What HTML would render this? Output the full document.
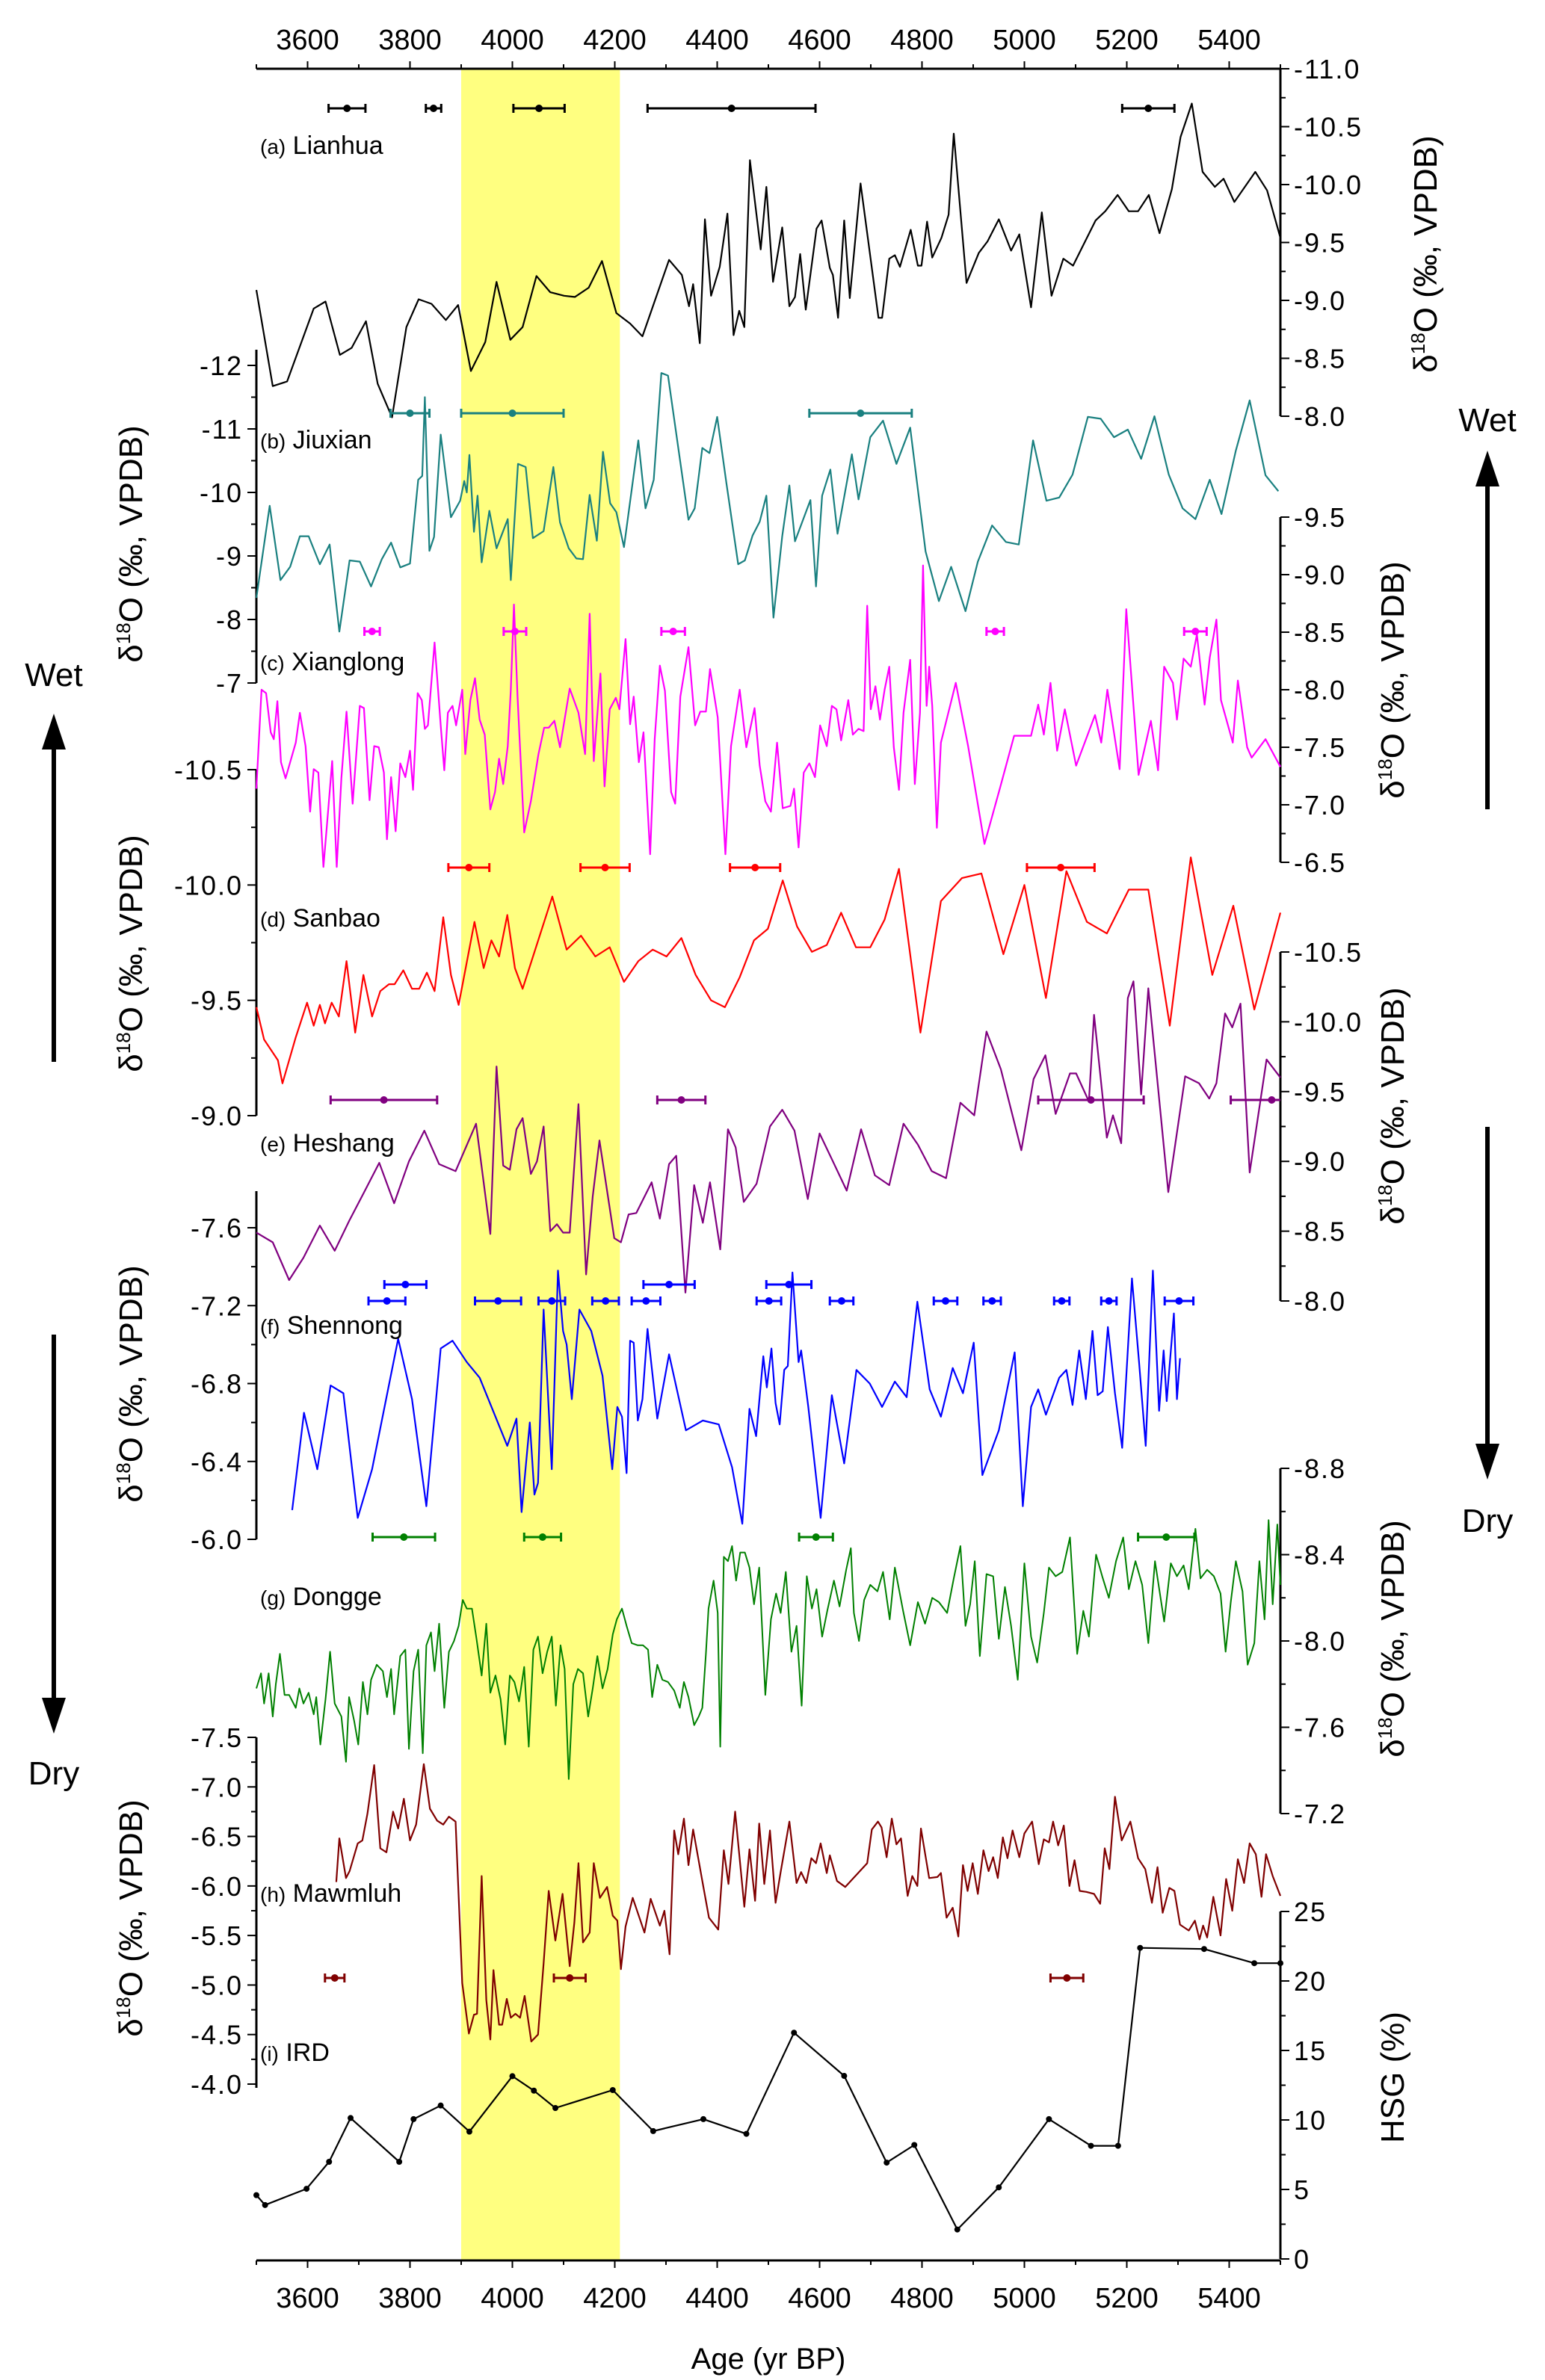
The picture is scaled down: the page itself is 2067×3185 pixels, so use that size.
<!DOCTYPE html>
<html><head><meta charset="utf-8"><style>
html,body{margin:0;padding:0;background:#fff;}
svg{display:block;font-family:"Liberation Sans",Arial,sans-serif;}
</style></head><body>
<svg id="chart" xmlns="http://www.w3.org/2000/svg" width="2067" height="3185" viewBox="0 0 2067 3185">
<rect x="0" y="0" width="2067" height="3185" fill="#fff"/>
<g id="band"></g><g id="axes"></g><g id="series"></g><g id="labels"></g>
</svg>
<script>
// ---- data ----
const lianhuaAge=[3500,3532,3560,3612,3635,3663,3686,3714,3737,3765,3793,3817,3842,3870,3894,3919,3947,3969,3996,4020,4047,4074,4101,4122,4149,4175,4203,4230,4254,4306,4331,4345,4353,4366,4376,4388,4405,4420,4432,4443,4453,4464,4485,4496,4509,4527,4541,4552,4562,4573,4594,4604,4620,4626,4636,4648,4659,4680,4715,4722,4736,4747,4757,4778,4792,4799,4810,4820,4838,4852,4862,4887,4911,4928,4950,4974,4990,5013,5034,5053,5076,5095,5113,5139,5158,5182,5204,5222,5243,5264,5288,5305,5327,5348,5372,5389,5410,5451,5474,5500];
const lianhuaVal=[-9.09,-8.26,-8.30,-8.93,-8.99,-8.53,-8.59,-8.82,-8.28,-7.99,-8.77,-9.01,-8.97,-8.83,-8.96,-8.39,-8.64,-9.16,-8.66,-8.77,-9.21,-9.07,-9.04,-9.03,-9.11,-9.34,-8.89,-8.80,-8.69,-9.35,-9.22,-8.95,-9.14,-8.63,-9.70,-9.04,-9.29,-9.75,-8.70,-8.91,-8.77,-10.21,-9.44,-9.98,-9.16,-9.63,-8.95,-9.03,-9.40,-8.92,-9.62,-9.69,-9.28,-9.22,-8.85,-9.69,-9.02,-10.01,-8.85,-8.85,-9.36,-9.39,-9.29,-9.61,-9.30,-9.30,-9.68,-9.37,-9.54,-9.74,-10.44,-9.15,-9.41,-9.51,-9.70,-9.43,-9.57,-8.94,-9.76,-9.04,-9.36,-9.30,-9.46,-9.69,-9.77,-9.91,-9.77,-9.77,-9.91,-9.58,-9.96,-10.41,-10.70,-10.11,-9.98,-10.05,-9.85,-10.11,-9.95,-9.54];

const jiuxianAge=[3500,3526,3547,3566,3585,3602,3624,3643,3662,3682,3702,3724,3745,3763,3781,3800,3816,3824,3829,3838,3847,3860,3880,3898,3906,3911,3916,3925,3932,3940,3955,3969,3991,3997,4011,4026,4040,4061,4080,4093,4110,4125,4138,4151,4165,4177,4191,4203,4218,4246,4260,4276,4291,4304,4344,4356,4371,4385,4400,4418,4441,4454,4469,4483,4496,4510,4527,4541,4552,4582,4593,4605,4621,4635,4663,4676,4699,4724,4750,4777,4807,4833,4857,4885,4909,4937,4964,4989,5017,5043,5068,5094,5124,5149,5175,5202,5228,5254,5282,5309,5334,5362,5385,5413,5440,5471,5496];
const jiuxianVal=[-8.34,-9.79,-8.62,-8.83,-9.31,-9.31,-8.87,-9.18,-7.81,-8.93,-8.91,-8.52,-8.95,-9.21,-8.82,-8.88,-10.20,-10.26,-11.50,-9.08,-9.30,-10.91,-9.61,-9.87,-10.18,-10.00,-10.59,-9.38,-9.95,-8.90,-9.71,-9.12,-9.58,-8.62,-10.45,-10.40,-9.28,-9.39,-10.40,-9.53,-9.12,-8.96,-8.95,-9.96,-9.24,-10.64,-9.83,-9.69,-9.14,-10.82,-9.75,-10.20,-11.88,-11.84,-9.57,-9.75,-10.70,-10.62,-11.19,-10.15,-8.87,-8.93,-9.32,-9.54,-9.95,-8.03,-9.31,-10.11,-9.23,-9.88,-8.52,-9.95,-10.36,-9.35,-10.60,-9.89,-10.87,-11.13,-10.45,-11.02,-9.07,-8.29,-8.83,-8.13,-8.91,-9.48,-9.22,-9.18,-10.82,-9.87,-9.92,-10.28,-11.19,-11.16,-10.87,-10.99,-10.53,-11.20,-10.28,-9.75,-9.58,-10.20,-9.66,-10.66,-11.45,-10.27,-10.02];

const xianglongAge=[3500,3510,3519,3528,3534,3541,3548,3557,3566,3577,3585,3596,3605,3612,3621,3631,3640,3648,3657,3666,3676,3688,3702,3710,3721,3730,3739,3749,3755,3763,3772,3781,3791,3800,3806,3815,3823,3829,3835,3848,3860,3867,3874,3883,3890,3902,3908,3918,3927,3936,3946,3957,3966,3974,3982,3991,3997,4003,4010,4023,4036,4051,4062,4071,4082,4093,4112,4129,4142,4151,4159,4172,4180,4190,4202,4209,4221,4230,4237,4247,4256,4269,4278,4288,4298,4310,4318,4328,4344,4357,4367,4378,4386,4401,4416,4427,4444,4457,4473,4483,4494,4505,4517,4528,4543,4550,4559,4569,4580,4591,4601,4614,4624,4633,4642,4656,4665,4676,4686,4693,4700,4709,4718,4727,4736,4745,4755,4764,4777,4786,4796,4802,4809,4814,4820,4829,4837,4866,4890,4922,4952,4980,5013,5027,5038,5051,5064,5079,5101,5138,5150,5162,5186,5199,5223,5247,5261,5273,5290,5298,5311,5325,5337,5352,5362,5375,5384,5407,5417,5435,5444,5471,5500];
const xianglongVal=[-7.14,-8.00,-7.97,-7.63,-7.57,-7.90,-7.37,-7.23,-7.37,-7.54,-7.80,-7.51,-6.94,-7.31,-7.28,-6.46,-6.94,-7.38,-6.46,-7.23,-7.81,-7.01,-7.86,-7.84,-7.04,-7.51,-7.50,-7.28,-6.70,-7.24,-6.77,-7.36,-7.24,-7.47,-7.13,-7.97,-7.91,-7.66,-7.69,-8.41,-7.69,-7.30,-7.80,-7.86,-7.69,-8.00,-7.44,-7.91,-8.10,-7.74,-7.61,-6.96,-7.11,-7.40,-7.18,-7.51,-8.00,-8.74,-7.94,-6.76,-7.03,-7.44,-7.67,-7.67,-7.73,-7.50,-8.01,-7.80,-7.44,-8.66,-7.38,-8.14,-7.16,-7.83,-7.93,-7.83,-8.44,-7.70,-7.94,-7.37,-7.63,-6.57,-7.57,-8.21,-7.99,-7.11,-7.01,-7.94,-8.37,-7.69,-7.81,-7.81,-8.18,-7.76,-6.57,-7.51,-8.00,-7.50,-7.84,-7.34,-7.03,-6.94,-7.54,-6.97,-6.99,-7.14,-6.63,-7.28,-7.36,-7.24,-7.69,-7.51,-7.86,-7.83,-7.56,-7.91,-7.61,-7.66,-7.64,-8.73,-7.83,-8.03,-7.74,-8.00,-8.20,-7.50,-7.13,-7.80,-8.26,-7.18,-7.80,-9.08,-7.86,-8.20,-7.86,-6.80,-7.54,-8.06,-7.51,-6.66,-7.14,-7.60,-7.60,-7.87,-7.61,-8.06,-7.47,-7.83,-7.34,-7.78,-7.54,-8.00,-7.31,-8.70,-7.26,-7.73,-7.30,-8.20,-8.06,-7.74,-8.27,-8.20,-8.48,-7.87,-8.28,-8.61,-7.91,-7.54,-8.08,-7.50,-7.41,-7.57,-7.33];

const sanbaoAge=[3500,3515,3542,3551,3577,3599,3612,3624,3634,3647,3661,3676,3693,3709,3726,3742,3759,3770,3787,3804,3818,3833,3848,3865,3880,3895,3926,3944,3959,3974,3990,4005,4020,4078,4106,4134,4162,4190,4218,4246,4274,4301,4330,4358,4388,4415,4444,4472,4499,4528,4556,4585,4614,4642,4671,4699,4727,4755,4797,4837,4878,4916,4959,5000,5042,5082,5122,5161,5204,5242,5284,5325,5367,5408,5449,5500];
const sanbaoVal=[-9.47,-9.33,-9.24,-9.14,-9.34,-9.49,-9.39,-9.48,-9.40,-9.49,-9.43,-9.67,-9.36,-9.61,-9.43,-9.54,-9.57,-9.57,-9.63,-9.55,-9.55,-9.62,-9.54,-9.86,-9.61,-9.48,-9.84,-9.64,-9.76,-9.69,-9.87,-9.64,-9.55,-9.95,-9.72,-9.78,-9.69,-9.73,-9.58,-9.67,-9.72,-9.69,-9.77,-9.61,-9.50,-9.47,-9.60,-9.76,-9.81,-10.02,-9.82,-9.71,-9.74,-9.88,-9.73,-9.73,-9.85,-10.07,-9.36,-9.93,-10.03,-10.05,-9.70,-10.00,-9.51,-10.06,-9.84,-9.79,-9.98,-9.98,-9.39,-10.12,-9.61,-9.91,-9.46,-9.88];

const heshangAge=[3500,3532,3564,3592,3624,3653,3682,3712,3740,3769,3798,3828,3857,3889,3929,3957,3969,3982,3995,4008,4020,4036,4048,4061,4074,4087,4099,4112,4129,4144,4157,4170,4199,4212,4227,4242,4272,4288,4306,4320,4338,4355,4372,4386,4406,4421,4436,4452,4477,4503,4527,4551,4577,4600,4626,4653,4681,4708,4736,4764,4792,4819,4847,4875,4902,4926,4954,4994,5018,5041,5061,5089,5101,5126,5136,5161,5173,5189,5202,5213,5228,5242,5281,5314,5341,5361,5375,5392,5406,5422,5440,5473,5500];
const heshangVal=[-8.49,-8.42,-8.15,-8.31,-8.54,-8.36,-8.58,-8.79,-8.99,-8.70,-9.00,-9.22,-8.98,-8.93,-9.27,-8.48,-9.68,-8.97,-8.94,-9.23,-9.31,-8.91,-9.00,-9.25,-8.50,-8.55,-8.49,-8.49,-9.41,-8.19,-8.75,-9.15,-8.45,-8.42,-8.62,-8.63,-8.85,-8.59,-8.98,-9.04,-8.06,-8.83,-8.56,-8.85,-8.37,-9.23,-9.10,-8.71,-8.84,-9.25,-9.37,-9.22,-8.73,-9.20,-9.00,-8.79,-9.23,-8.90,-8.83,-9.27,-9.12,-8.93,-8.88,-9.42,-9.33,-9.93,-9.66,-9.08,-9.59,-9.76,-9.34,-9.63,-9.63,-9.43,-10.05,-9.17,-9.33,-9.13,-10.17,-10.29,-9.48,-10.24,-8.78,-9.61,-9.56,-9.45,-9.56,-10.06,-9.96,-10.13,-8.92,-9.73,-9.60];

const shennongAge=[3570,3593,3619,3645,3670,3698,3726,3777,3804,3832,3860,3883,3911,3936,3990,4008,4018,4034,4043,4050,4061,4077,4089,4099,4106,4116,4131,4154,4176,4195,4205,4214,4223,4230,4237,4245,4254,4264,4283,4306,4339,4372,4403,4429,4449,4463,4476,4490,4497,4506,4514,4522,4531,4538,4547,4559,4564,4578,4602,4624,4648,4672,4698,4722,4747,4770,4791,4815,4837,4860,4880,4901,4918,4950,4981,4997,5013,5027,5042,5068,5082,5094,5107,5120,5133,5143,5153,5163,5177,5191,5210,5224,5237,5251,5263,5272,5278,5292,5298,5304];
const shennongVal=[-6.15,-6.65,-6.36,-6.79,-6.75,-6.11,-6.36,-7.03,-6.72,-6.17,-6.98,-7.02,-6.91,-6.83,-6.48,-6.62,-6.14,-6.60,-6.23,-6.29,-7.18,-6.36,-7.38,-7.07,-7.00,-6.72,-7.18,-7.07,-6.84,-6.36,-6.68,-6.63,-6.34,-7.02,-7.01,-6.61,-6.72,-7.08,-6.62,-6.95,-6.56,-6.61,-6.59,-6.37,-6.08,-6.67,-6.53,-6.94,-6.78,-6.98,-6.70,-6.59,-6.87,-6.89,-7.37,-6.91,-6.97,-6.68,-6.11,-6.74,-6.39,-6.87,-6.80,-6.68,-6.81,-6.73,-7.22,-6.77,-6.63,-6.88,-6.75,-7.01,-6.33,-6.56,-6.96,-6.17,-6.68,-6.77,-6.64,-6.83,-6.87,-6.69,-6.97,-6.72,-7.07,-6.74,-6.76,-7.09,-6.75,-6.47,-7.34,-6.91,-6.48,-7.38,-6.66,-6.97,-6.71,-7.16,-6.72,-6.93];

const donggeAge=[3500,3509,3515,3524,3532,3538,3546,3555,3564,3577,3584,3592,3602,3612,3617,3625,3635,3644,3653,3666,3675,3681,3691,3699,3708,3717,3724,3735,3747,3755,3763,3769,3781,3791,3798,3807,3816,3825,3832,3841,3848,3857,3867,3876,3886,3895,3903,3911,3921,3930,3940,3949,3957,3967,3977,3986,3995,4004,4013,4023,4032,4041,4050,4059,4068,4077,4085,4094,4102,4110,4119,4128,4138,4148,4157,4166,4176,4186,4196,4204,4214,4223,4233,4245,4255,4265,4273,4283,4293,4304,4316,4327,4335,4344,4355,4364,4371,4378,4383,4393,4401,4406,4413,4421,4429,4437,4445,4454,4463,4472,4482,4494,4505,4515,4524,4534,4545,4555,4565,4575,4585,4594,4605,4615,4628,4639,4652,4661,4667,4677,4687,4699,4713,4724,4737,4747,4763,4777,4792,4806,4820,4833,4849,4862,4875,4885,4894,4903,4913,4926,4939,4950,4962,4974,4987,5000,5013,5025,5038,5048,5061,5074,5089,5103,5115,5126,5140,5152,5165,5179,5193,5204,5217,5230,5242,5255,5273,5286,5298,5311,5321,5334,5344,5357,5370,5383,5393,5403,5413,5426,5436,5449,5459,5469,5477,5485,5494,5500];
const donggeVal=[-7.78,-7.85,-7.71,-7.85,-7.65,-7.80,-7.94,-7.75,-7.75,-7.69,-7.78,-7.71,-7.76,-7.66,-7.74,-7.52,-7.73,-7.95,-7.71,-7.65,-7.44,-7.74,-7.63,-7.52,-7.81,-7.66,-7.82,-7.89,-7.86,-7.74,-7.87,-7.66,-7.93,-7.96,-7.50,-7.86,-7.96,-7.48,-7.98,-8.04,-7.86,-8.08,-7.69,-7.95,-8.00,-8.07,-8.19,-8.15,-8.15,-8.01,-7.84,-8.08,-7.76,-7.84,-7.73,-7.52,-7.84,-7.81,-7.72,-7.88,-7.51,-7.96,-8.02,-7.85,-7.95,-8.02,-7.70,-7.98,-7.87,-7.36,-7.80,-7.87,-7.85,-7.65,-7.78,-7.93,-7.78,-7.87,-8.03,-8.10,-8.15,-8.07,-7.99,-7.98,-7.98,-7.96,-7.74,-7.89,-7.82,-7.81,-7.77,-7.69,-7.81,-7.74,-7.61,-7.65,-7.69,-7.94,-8.15,-8.28,-8.13,-7.51,-8.39,-8.37,-8.44,-8.28,-8.41,-8.41,-8.34,-8.17,-8.34,-7.75,-8.10,-8.22,-8.13,-8.32,-7.95,-8.07,-7.70,-8.30,-8.15,-8.24,-8.02,-8.14,-8.28,-8.16,-8.33,-8.43,-8.13,-8.00,-8.19,-8.26,-8.23,-8.32,-8.10,-8.34,-8.14,-7.98,-8.18,-8.08,-8.20,-8.18,-8.13,-8.29,-8.44,-8.07,-8.17,-8.37,-7.93,-8.31,-8.30,-8.01,-8.25,-8.07,-7.82,-8.36,-8.02,-7.90,-8.13,-8.34,-8.30,-8.32,-8.48,-7.94,-8.14,-8.02,-8.40,-8.30,-8.20,-8.37,-8.48,-8.24,-8.37,-8.26,-7.99,-8.37,-8.09,-8.36,-8.30,-8.35,-8.24,-8.52,-8.29,-8.33,-8.30,-8.22,-7.95,-8.18,-8.37,-8.23,-7.89,-7.99,-8.37,-8.10,-8.56,-8.17,-8.54,-8.26];

const mawmluhAge=[3656,3662,3675,3682,3698,3707,3717,3730,3742,3754,3767,3777,3788,3800,3812,3827,3839,3853,3865,3876,3889,3902,3915,3925,3931,3940,3949,3957,3963,3974,3980,3989,3997,4006,4015,4024,4037,4050,4061,4071,4084,4098,4112,4121,4129,4138,4151,4159,4171,4185,4196,4205,4212,4221,4235,4258,4270,4288,4297,4307,4316,4324,4335,4344,4353,4371,4384,4402,4413,4422,4435,4453,4463,4474,4482,4492,4503,4514,4524,4541,4555,4564,4574,4584,4593,4602,4614,4620,4634,4650,4693,4702,4714,4721,4731,4741,4750,4759,4772,4781,4791,4798,4814,4830,4837,4848,4860,4871,4880,4889,4899,4909,4920,4930,4939,4948,4958,4967,4977,4990,5000,5015,5028,5038,5048,5056,5066,5077,5088,5098,5108,5121,5136,5148,5157,5166,5177,5190,5207,5222,5236,5249,5260,5270,5283,5293,5304,5321,5333,5342,5349,5357,5369,5383,5394,5406,5417,5429,5440,5452,5463,5472,5485,5500];
const mawmluhVal=[-6.04,-6.48,-6.08,-6.15,-6.43,-6.46,-6.73,-7.22,-6.38,-6.34,-6.75,-6.58,-6.88,-6.46,-6.62,-7.23,-6.78,-6.66,-6.62,-6.70,-6.65,-5.02,-4.51,-4.70,-4.71,-6.10,-4.85,-4.45,-5.15,-4.60,-4.60,-4.86,-4.67,-4.71,-4.67,-4.89,-4.43,-4.50,-5.22,-5.95,-5.45,-5.92,-5.19,-5.63,-6.23,-5.43,-5.53,-6.23,-5.88,-5.99,-5.70,-5.65,-5.16,-5.59,-5.88,-5.53,-5.87,-5.60,-5.75,-5.31,-6.56,-6.32,-6.68,-6.21,-6.57,-6.05,-5.68,-5.56,-6.36,-6.02,-6.75,-5.79,-6.37,-5.85,-6.63,-6.02,-6.56,-5.83,-6.14,-6.65,-6.03,-6.14,-6.03,-6.28,-6.23,-6.43,-6.13,-6.31,-6.05,-5.99,-6.23,-6.57,-6.65,-6.59,-6.29,-6.68,-6.42,-6.48,-5.90,-6.10,-6.00,-6.58,-6.08,-6.09,-6.13,-5.68,-5.78,-5.49,-6.21,-5.95,-6.23,-5.92,-6.36,-6.15,-6.29,-6.08,-6.49,-6.28,-6.56,-6.29,-6.53,-6.65,-6.22,-6.47,-6.44,-6.65,-6.41,-6.61,-6.00,-6.26,-5.95,-5.94,-5.92,-5.82,-6.38,-6.17,-6.90,-6.46,-6.65,-6.28,-6.17,-5.83,-6.19,-5.73,-5.98,-5.95,-5.61,-5.55,-5.65,-5.46,-5.60,-5.48,-5.89,-5.50,-6.07,-5.75,-6.27,-6.03,-6.43,-6.32,-5.89,-6.32,-6.10,-5.90];

const irdAge=[3500,3517,3598,3642,3684,3779,3807,3860,3916,4000,4042,4084,4196,4275,4373,4457,4550,4648,4731,4785,4869,4950,5048,5130,5183,5226,5351,5449,5500];
const irdVal=[4.59,3.88,5.05,6.99,10.14,6.99,10.06,11.04,9.16,13.15,12.11,10.86,12.15,9.20,10.06,9.00,16.28,13.17,6.93,8.20,2.12,5.15,10.06,8.14,8.14,22.38,22.30,21.28,21.28];

// error bars (age centres and half-widths in years)
const errLianhuaAge=[3677,3846,4052,4428,5242], errLianhuaHW=[36,15,50,164,51];
const errJiuxianAge=[3800,4000,4680], errJiuxianHW=[38,100,100];
const errXianglongAge=[3726,4005,4314,4943,5334], errXianglongHW=[15,22,23,17,22];
const errSanbaoAge=[3915,4181,4474,5071], errSanbaoHW=[40,48,49,66];
const errHeshangAge=[3749,4330,5130,5483], errHeshangHW=[104,47,103,80];
const errShennong1Age=[3791,4306,4540], errShennong1HW=[41,50,44];
const errShennong2Age=[3755,3972,4077,4182,4261,4501,4643,4846,4937,5073,5165,5302], errShennong2HW=[36,45,26,26,28,24,23,23,17,15,15,28];
const errDonggeAge=[3788,4059,4593,5277], errDonggeHW=[61,36,33,55];
const errMawmluhAge=[3653,4112,5083], errMawmluhHW=[19,31,32];

const ageTicks=[3600,3800,4000,4200,4400,4600,4800,5000,5200,5400];
const bandStart=3900, bandEnd=4210;

// ---- drawing ----
const NS='http://www.w3.org/2000/svg';
const X=t=>343+(t-3500)*0.685;
function mk(tag,attrs,parent){const e=document.createElementNS(NS,tag);for(const k in attrs)e.setAttribute(k,attrs[k]);parent.appendChild(e);return e;}
const gA=document.getElementById('axes'),gS=document.getElementById('series'),gL=document.getElementById('labels'),gB=document.getElementById('band');

const band=mk('rect',{x:X(bandStart),y:92,width:X(bandEnd)-X(bandStart),height:3025-92,fill:'#ffff80'},gB);



[[92,-1],[3025,1]].forEach(([y,dir])=>{
  const l=mk('line',{x1:343,x2:1713,y1:y,y2:y,stroke:'#000','stroke-width':3},gA);
  
  
  for(let t=3500;t<=5500;t+=100){
    const len=(t%200===0)?10:6;
    mk('line',{x1:X(t),x2:X(t),y1:y,y2:y+dir*len,stroke:'#000','stroke-width':2},gA);
  }
  ageTicks.forEach(t=>{
    const tx=mk('text',{x:X(t),y:dir<0?66:3088,'text-anchor':'middle','font-size':38},gA);
    tx.textContent=t;
    
    
  });
});
const xt=mk('text',{x:1028,y:3170,'text-anchor':'middle','font-size':40},gA);
xt.textContent='Age (yr BP)';



const panels=[
 {id:'lianhua',lab:'(a)',name:'Lianhua',age:lianhuaAge,val:lianhuaVal,v0:-11,y0:92,v1:-8,y1:557,side:'r',step:0.5,dec:1,col:'#000',ly:193,ty:340,tx:1922,ax0:92,ax1:557,eA:[errLianhuaAge],eH:[errLianhuaHW],eY:[145]},
 {id:'jiuxian',lab:'(b)',name:'Jiuxian',age:jiuxianAge,val:jiuxianVal,v0:-12,y0:489,v1:-7,y1:914,side:'l',step:1,dec:0,col:'#1a8080',ly:587,ty:728,tx:190,ax0:468,ax1:914,eA:[errJiuxianAge],eH:[errJiuxianHW],eY:[553]},
 {id:'xianglong',lab:'(c)',name:'Xianglong',age:xianglongAge,val:xianglongVal,v0:-9.5,y0:692,v1:-6.5,y1:1154,side:'r',step:0.5,dec:1,col:'#ff00ff',ly:884,ty:910,tx:1878,ax0:692,ax1:1154,eA:[errXianglongAge],eH:[errXianglongHW],eY:[845]},
 {id:'sanbao',lab:'(d)',name:'Sanbao',age:sanbaoAge,val:sanbaoVal,v0:-10.5,y0:1030,v1:-9.0,y1:1493,side:'l',step:0.5,dec:1,col:'#ff0000',ly:1227,ty:1276,tx:190,ax0:1030,ax1:1493,eA:[errSanbaoAge],eH:[errSanbaoHW],eY:[1161]},
 {id:'heshang',lab:'(e)',name:'Heshang',age:heshangAge,val:heshangVal,v0:-10.5,y0:1274,v1:-8.0,y1:1741,side:'r',step:0.5,dec:1,col:'#800080',ly:1528,ty:1480,tx:1878,ax0:1274,ax1:1741,eA:[errHeshangAge],eH:[errHeshangHW],eY:[1472]},
 {id:'shennong',lab:'(f)',name:'Shennong',age:shennongAge,val:shennongVal,v0:-7.6,y0:1643,v1:-6.0,y1:2060,side:'l',step:0.4,dec:1,col:'#0000ff',ly:1772,ty:1852,tx:190,ax0:1594,ax1:2060,eA:[errShennong1Age,errShennong2Age],eH:[errShennong1HW,errShennong2HW],eY:[1719,1741]},
 {id:'dongge',lab:'(g)',name:'Dongge',age:donggeAge,val:donggeVal,v0:-8.8,y0:1965,v1:-7.2,y1:2427,side:'r',step:0.4,dec:1,col:'#008000',ly:2135,ty:2193,tx:1878,ax0:1965,ax1:2427,eA:[errDonggeAge],eH:[errDonggeHW],eY:[2057]},
 {id:'mawmluh',lab:'(h)',name:'Mawmluh',age:mawmluhAge,val:mawmluhVal,v0:-7.5,y0:2325,v1:-4.0,y1:2789,side:'l',step:0.5,dec:1,col:'#800000',ly:2532,ty:2567,tx:190,ax0:2325,ax1:2794,eA:[errMawmluhAge],eH:[errMawmluhHW],eY:[2647]},
 {id:'ird',lab:'(i)',name:'IRD',age:irdAge,val:irdVal,v0:25,y0:2558,v1:0,y1:3023,side:'r',step:5,dec:0,col:'#000',ly:2745,ty:2780,tx:1878,ax0:2558,ax1:3023,eA:[],eH:[],eY:[],dots:true,title:'HSG (%)'}
];

panels.forEach(p=>{
  const Y=v=>p.y0+(v-p.v0)*(p.y1-p.y0)/(p.v1-p.v0);
  const ax=p.side==='r'?1713:343, d=p.side==='r'?1:-1;
  const al=mk('line',{x1:ax,x2:ax,y1:p.ax0,y2:p.ax1,stroke:'#000','stroke-width':3},gA);
  
  
  const cnt=Math.abs(Math.round((p.v1-p.v0)/p.step));
  const sgn=p.v1>p.v0?1:-1;
  for(let i=0;i<=cnt;i++){
    const v=p.v0+sgn*i*p.step, y=Y(v);
    mk('line',{x1:ax,x2:ax+d*12,y1:y,y2:y,stroke:'#000','stroke-width':2},gA);
    if(i<cnt){const ym=Y(v+sgn*p.step/2);mk('line',{x1:ax,x2:ax+d*7,y1:ym,y2:ym,stroke:'#000','stroke-width':2},gA);}
    const t=mk('text',{x:ax+d*18,y:y+13,'text-anchor':p.side==='r'?'start':'end','font-size':36,'letter-spacing':2},gA);
    t.textContent=v.toFixed(p.dec);
    
    
  }
  const tt=mk('text',{x:0,y:0,'text-anchor':'middle','font-size':44,transform:`translate(${p.tx},${p.ty}) rotate(-90)`},gL);
  if(p.title){tt.textContent=p.title;}
  else{tt.innerHTML='δ<tspan font-size="26" dy="-16">18</tspan><tspan dy="16">O (‰, VPDB)</tspan>';}
  
  
  const sl=mk('text',{x:348,y:p.ly+13,'font-size':34},gL);
  sl.innerHTML=`<tspan font-size="28">${p.lab}</tspan> ${p.name}`;
  
  
  const pts=p.age.map((a,i)=>X(a).toFixed(1)+','+Y(p.val[i]).toFixed(1)).join(' ');
  const pl=mk('polyline',{points:pts,fill:'none',stroke:p.col,'stroke-width':p.id==='dongge'?2:2.2,'stroke-linejoin':'round'},gS);
  
  
  if(p.dots){p.age.forEach((a,i)=>{
    const c=mk('circle',{cx:X(a),cy:Y(p.val[i]),r:4,fill:'#000'},gS);
    
    
  });}
  p.eA.forEach((arr,k)=>{
    const y=p.eY[k];
    arr.forEach((a,i)=>{
      const hw=p.eH[k][i];
      const lo=a-hw, hi=a+hw;
      const xa=X(Math.max(3500,lo)), xb=X(Math.min(5500,hi));
      const g=mk('g',{stroke:p.col,'stroke-width':3},gS);
      
      
      mk('line',{x1:xa,x2:xb,y1:y,y2:y},g);
      if(lo>=3500) mk('line',{x1:xa,x2:xa,y1:y-6,y2:y+6},g);
      if(hi<=5500) mk('line',{x1:xb,x2:xb,y1:y-6,y2:y+6},g);
      mk('circle',{cx:X(a),cy:y,r:5,fill:p.col,stroke:'none'},g);
    });
  });
});

function arrow(name,x,yTail,yHead,label,ly){
  const g=mk('g',{},gL);
  
  
  const up=yHead<yTail, hl=48;
  const yb=up?yHead+hl:yHead-hl;
  mk('line',{x1:x,x2:x,y1:yTail,y2:yb,stroke:'#000','stroke-width':6},g);
  mk('polygon',{points:`${x},${yHead} ${x-16},${yb} ${x+16},${yb}`,fill:'#000'},g);
  const t=mk('text',{x:x,y:ly,'text-anchor':'middle','font-size':44},g);
  t.textContent=label;
}
arrow('right-wet-arrow',1990,1083,603,'Wet',577);
arrow('right-dry-arrow',1990,1508,1980,'Dry',2050);
arrow('left-wet-arrow',72,1421,955,'Wet',918);
arrow('left-dry-arrow',72,1786,2320,'Dry',2388);
</script>
</body></html>
